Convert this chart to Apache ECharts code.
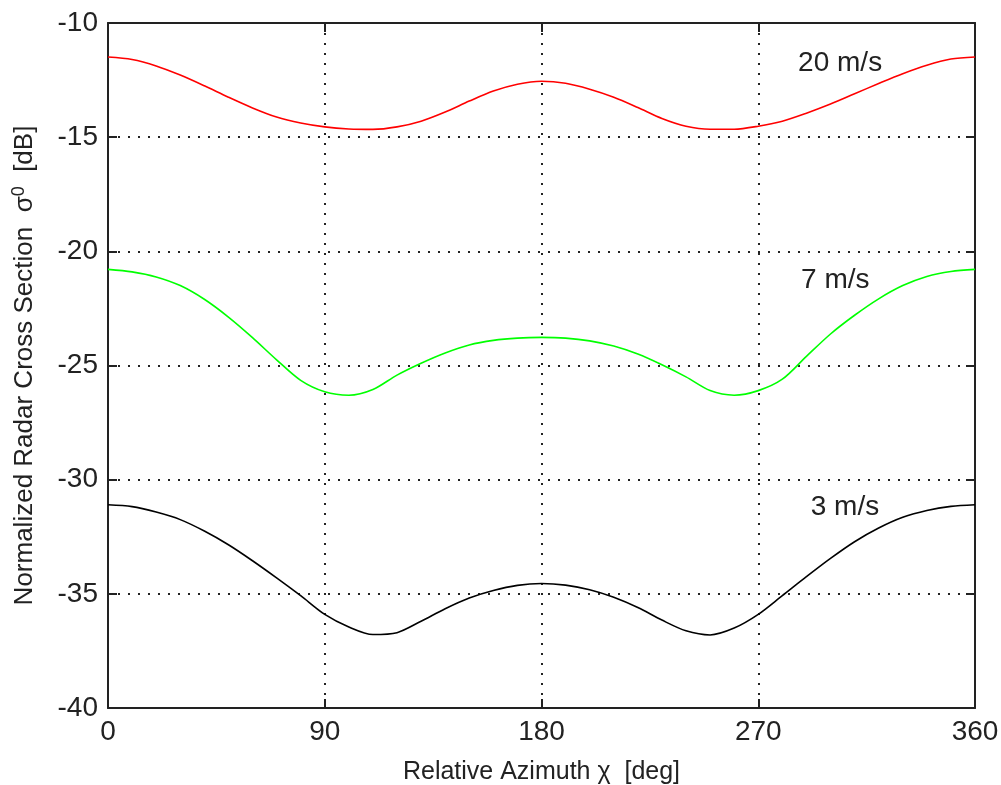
<!DOCTYPE html>
<html>
<head>
<meta charset="utf-8">
<title>Normalized Radar Cross Section</title>
<script src="https://cdn.jsdelivr.net/npm/echarts@6/dist/echarts.min.js"></script>
<style>
  html, body { margin: 0; padding: 0; background: #fff; }
  #chart { width: 1001px; height: 785px; }
</style>
</head>
<body>
<div id="chart"></div>
<script>
// relative azimuth, degrees
var azimuth = [0, 10, 20, 30, 40, 50, 60, 70, 80, 90, 100, 110, 120, 130, 140, 150, 160, 170, 180,
  190, 200, 210, 220, 230, 240, 250, 260, 270, 280, 290, 300, 310, 320, 330, 340, 350, 360];

// sigma0 in dB
var wind20 = [-11.49, -11.6, -11.88, -12.28, -12.75, -13.25, -13.72, -14.12, -14.38, -14.55, -14.64, -14.66,
  -14.55, -14.3, -13.9, -13.42, -12.98, -12.68, -12.55,
  -12.64, -12.9, -13.25, -13.7, -14.18, -14.52, -14.65, -14.65, -14.52, -14.3, -13.95, -13.55, -13.1,
  -12.65, -12.22, -11.85, -11.58, -11.49];
var wind7 = [-20.79, -20.9, -21.12, -21.5, -22.1, -22.88, -23.78, -24.75, -25.65, -26.15, -26.3, -26.05,
  -25.42, -24.9, -24.45, -24.1, -23.9, -23.8, -23.77,
  -23.8, -23.92, -24.15, -24.5, -24.97, -25.5, -26.1, -26.3, -26.1, -25.6, -24.6, -23.62, -22.8,
  -22.08, -21.5, -21.1, -20.88, -20.79];
var wind3 = [-31.1, -31.18, -31.42, -31.75, -32.25, -32.85, -33.55, -34.3, -35.08, -35.9, -36.45, -36.78,
  -36.7, -36.2, -35.65, -35.18, -34.85, -34.63, -34.55,
  -34.62, -34.82, -35.15, -35.6, -36.15, -36.62, -36.8, -36.5, -35.9, -35.08, -34.25, -33.45, -32.72,
  -32.12, -31.65, -31.35, -31.17, -31.1];

var seriesNames = ['20 m/s', '7 m/s', '3 m/s'];
var xTicks = [0, 90, 180, 270, 360];
var yTicks = [-40, -35, -30, -25, -20, -15, -10];

var chartDom = document.getElementById('chart');
var myChart = echarts.init(chartDom);
var font = "'Liberation Sans', Arial, Helvetica, sans-serif";
var ink = '#222';

function pairs(vals) {
  return azimuth.map(function (a, i) { return [a, vals[i]]; });
}

// where the speed labels sit, in data units
var labelAt = [[304, -11.77], [302, -21.26], [306, -31.23]];

function curve(name, vals, color, at) {
  return {
    name: name,
    type: 'line',
    data: pairs(vals),
    smooth: 0.3,
    showSymbol: false,
    lineStyle: { color: color, width: 1.6 },
    itemStyle: { color: color },
    markPoint: {
      symbol: 'circle',
      symbolSize: 0,
      silent: true,
      data: [{ coord: at }],
      label: {
        show: true,
        position: 'inside',
        formatter: name,
        color: ink,
        fontFamily: font,
        fontSize: 28
      }
    }
  };
}

var boxLine = { show: true, onZero: false, lineStyle: { color: ink, width: 2 } };
var dotted = { show: true, lineStyle: { color: '#222', width: 2, type: [2, 8] } };
var tickIn = { show: true, inside: true, length: 9, lineStyle: { color: ink, width: 2 } };

var option = {
  animation: false,
  backgroundColor: '#fff',
  grid: { left: 108, right: 26, top: 23, bottom: 77, outerBoundsMode: 'none' },
  xAxis: [
    {
      type: 'value',
      min: xTicks[0],
      max: xTicks[xTicks.length - 1],
      interval: 90,
      position: 'bottom',
      name: 'Relative Azimuth χ  [deg]',
      nameLocation: 'middle',
      nameGap: 52,
      nameTextStyle: { color: ink, fontFamily: font, fontSize: 25 },
      axisLine: boxLine,
      axisTick: tickIn,
      axisLabel: { color: ink, fontFamily: font, fontSize: 28, margin: 10 },
      splitLine: dotted
    },
    {
      type: 'value',
      min: xTicks[0],
      max: xTicks[xTicks.length - 1],
      interval: 90,
      position: 'top',
      axisLine: boxLine,
      axisTick: tickIn,
      axisLabel: { show: false },
      splitLine: { show: false }
    }
  ],
  yAxis: [
    {
      type: 'value',
      min: yTicks[0],
      max: yTicks[yTicks.length - 1],
      interval: 5,
      position: 'left',
      name: '{t|Normalized Radar Cross Section  σ}{s|0}{t|  [dB]}',
      nameLocation: 'middle',
      nameGap: 68,
      nameTextStyle: {
        color: ink,
        fontFamily: font,
        fontSize: 26,
        rich: {
          t: { fontFamily: font, fontSize: 26, color: ink, lineHeight: 30 },
          s: { fontFamily: font, fontSize: 18, color: ink, verticalAlign: 'top', lineHeight: 30 }
        }
      },
      axisLine: boxLine,
      axisTick: tickIn,
      axisLabel: { color: ink, fontFamily: font, fontSize: 28, margin: 10 },
      splitLine: dotted
    },
    {
      type: 'value',
      min: yTicks[0],
      max: yTicks[yTicks.length - 1],
      interval: 5,
      position: 'right',
      axisLine: boxLine,
      axisTick: tickIn,
      axisLabel: { show: false },
      splitLine: { show: false }
    }
  ],
  series: [
    curve(seriesNames[0], wind20, '#ff0000', labelAt[0]),
    curve(seriesNames[1], wind7, '#00ff00', labelAt[1]),
    curve(seriesNames[2], wind3, '#000000', labelAt[2])
  ]
};

option && myChart.setOption(option);
</script>
</body>
</html>
